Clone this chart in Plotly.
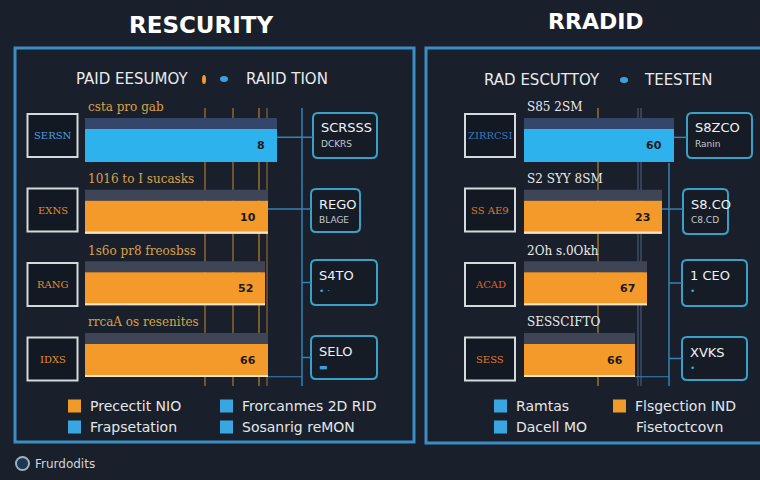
import plotly.graph_objects as go

W, H = 760, 480
def px(x): return x / W
def py(y): return 1 - y / H

# ---------------- data ----------------
rows = [0, 1, 2, 3]

left_values = [64, 61, 60, 61]
left_inner_labels = ["8", "10", "52", "66"]
left_categories = ["csta pro gab", "1016 to I sucasks", "1s6o pr8 freosbss", "rrcaA os resenites"]
left_tags = ["SERSN", "EXNS", "RANG", "IDXS"]
left_info_main = ["SCRSSS", "REGO", "S4TO", "SELO"]
left_info_sub = ["DCKRS", "BLAGE", "• ·", "▬"]
left_kinds = ["blue", "orange", "orange", "orange"]

right_values = [50, 46, 41, 37]
right_inner_labels = ["60", "23", "67", "66"]
right_categories = ["S85 2SM", "S2 SYY 8SM", "2Oh s.0Okh", "SESSCIFTO"]
right_tags = ["ZIRRCSI", "SS AE9", "ACAD", "SESS"]
right_info_main = ["S8ZCO", "S8.CO", "1 CEO", "XVKS"]
right_info_sub = ["Ranin", "C8.CD", "•", "•"]
right_kinds = ["blue", "orange", "orange", "orange"]

titles = ["RESCURITY", "RRADID"]
left_legend = [("orange", "Precectit NIO"), ("blue", "Frapsetation"),
               ("blue", "Frorcanmes 2D RID"), ("blue", "Sosanrig reMON")]
right_legend = [("blue", "Ramtas"), ("blue", "Dacell MO"),
                ("orange", "Flsgection IND"), (None, "Fisetoctcovn")]
footer_text = "Frurdodits"

# ---------------- styling ----------------
BG = "#1a202b"
FRAME = "#3b8ec4"
HEADER = {"blue": "#34466a", "orange": "#3e4556"}
BAR = {"blue": "#2db2ee", "orange": "#f39a2b"}
EDGE = {"blue": "#2db2ee", "orange": "#f6e4c6"}
TAG_TXT_L = ["#4a9fe0", "#e08c2c", "#e08c2c", "#e08c2c"]
TAG_TXT_R = ["#3a78c0", "#e07a2a", "#e0602a", "#e07a2a"]
SQ = {"blue": "#39a6e2", "orange": "#f09a2a"}
SANS = "DejaVu Sans"
SERIF = "DejaVu Serif"

HEAD_W = 0.153
BODY_W = 0.461
EDGE_W = 0.03

fig = go.Figure()

panels = [
    dict(xa="x", ya="y", vals=left_values, labels=left_inner_labels, kinds=left_kinds),
    dict(xa="x2", ya="y2", vals=right_values, labels=right_inner_labels, kinds=right_kinds),
]
for p in panels:
    fig.add_trace(go.Bar(x=p["vals"], y=rows, orientation="h", width=HEAD_W, offset=0,
                         marker=dict(color=[HEADER[k] for k in p["kinds"]], line=dict(width=0)),
                         xaxis=p["xa"], yaxis=p["ya"], hoverinfo="skip"))
    fig.add_trace(go.Bar(x=p["vals"], y=rows, orientation="h", width=BODY_W, offset=HEAD_W,
                         marker=dict(color=[BAR[k] for k in p["kinds"]], line=dict(width=0)),
                         xaxis=p["xa"], yaxis=p["ya"], hoverinfo="skip"))
    fig.add_trace(go.Bar(x=p["vals"], y=rows, orientation="h", width=EDGE_W,
                         offset=HEAD_W + BODY_W - EDGE_W,
                         marker=dict(color=[EDGE[k] for k in p["kinds"]], line=dict(width=0)),
                         xaxis=p["xa"], yaxis=p["ya"], hoverinfo="skip"))

YR = [3.795, -0.391]
ax_common = dict(visible=False, showgrid=False, zeroline=False, fixedrange=True)
fig.update_layout(
    width=W, height=H, margin=dict(l=0, r=0, t=0, b=0),
    paper_bgcolor=BG, plot_bgcolor="rgba(0,0,0,0)",
    showlegend=False, barmode="overlay",
    xaxis=dict(domain=[px(85), px(385)], range=[0, 100], anchor="y", **ax_common),
    yaxis=dict(domain=[py(390), py(90)], range=YR, anchor="x", **ax_common),
    xaxis2=dict(domain=[px(524), px(749)], range=[0, 75], anchor="y2", **ax_common),
    yaxis2=dict(domain=[py(390), py(90)], range=YR, anchor="x2", **ax_common),
)

shapes = []
ann = []

def rect(x0, y0, x1, y1, line=None, lw=2, fill=None, layer="above"):
    shapes.append(dict(type="rect", xref="paper", yref="paper",
                       x0=px(x0), x1=px(x1), y0=py(y1), y1=py(y0),
                       line=dict(color=line or "rgba(0,0,0,0)", width=lw if line else 0),
                       fillcolor=fill or "rgba(0,0,0,0)", layer=layer))

def rrect(x0, y0, x1, y1, r=5, line="#3aa0c8", lw=2, fill="#161c26"):
    pts = (f"M{px(x0+r)},{py(y0)} L{px(x1-r)},{py(y0)} Q{px(x1)},{py(y0)} {px(x1)},{py(y0+r)} "
           f"L{px(x1)},{py(y1-r)} Q{px(x1)},{py(y1)} {px(x1-r)},{py(y1)} "
           f"L{px(x0+r)},{py(y1)} Q{px(x0)},{py(y1)} {px(x0)},{py(y1-r)} "
           f"L{px(x0)},{py(y0+r)} Q{px(x0)},{py(y0)} {px(x0+r)},{py(y0)} Z")
    shapes.append(dict(type="path", xref="paper", yref="paper", path=pts,
                       line=dict(color=line, width=lw), fillcolor=fill))

def pline(x0, y0, x1, y1, color, w=1.5, layer="above", dash=None):
    shapes.append(dict(type="line", xref="paper", yref="paper",
                       x0=px(x0), y0=py(y0), x1=px(x1), y1=py(y1), layer=layer,
                       line=dict(color=color, width=w, dash=dash)))

def text(x, y, s, size=12, color="#e6e8ea", family=SANS, xanchor="left", bold=False):
    if bold:
        s = f"<b>{s}</b>"
    ann.append(dict(xref="paper", yref="paper", x=px(x), y=py(y), text=s, showarrow=False,
                    xanchor=xanchor, yanchor="middle",
                    font=dict(size=size, color=color, family=family)))

# frames
rect(15, 48, 414, 442, line=FRAME, lw=3)
rect(426, 48, 790, 443, line=FRAME, lw=3)

# titles
text(201, 25, titles[0], size=23, color="#ffffff", xanchor="center", bold=True)
text(596, 22, titles[1], size=22, color="#ffffff", xanchor="center", bold=True)

# subtitle legends
text(74, 79, "PAID EESUMOY", size=15, color="#e8eaec")
shapes.append(dict(type="circle", xref="paper", yref="paper", x0=px(202), x1=px(206), y0=py(84), y1=py(75),
                   fillcolor="#f09a2a", line=dict(width=0)))
shapes.append(dict(type="circle", xref="paper", yref="paper", x0=px(220), x1=px(228), y0=py(82), y1=py(76),
                   fillcolor="#3aa2e0", line=dict(width=0)))
text(244, 79, "RAIID TION", size=15, color="#e8eaec")
text(482, 80, "RAD ESCUTTOY", size=15, color="#e8eaec")
shapes.append(dict(type="circle", xref="paper", yref="paper", x0=px(620), x1=px(628), y0=py(83), y1=py(77),
                   fillcolor="#3aa2e0", line=dict(width=0)))
text(642, 80, "TEESTEN", size=15, color="#e8eaec")

# decorative thin lines behind bars
for x, c in [(205, "#b8802c"), (233, "#b8802c"), (259, "#c98e2e"), (267, "#9a6c2e")]:
    pline(x, 108, x, 386, c, w=1.1, layer="below")
for x, c in [(598, "#c8922e"), (638, "#4f5f76"), (641, "#4f5f76")]:
    pline(x, 108, x, 386, c, w=1.1, layer="below")

# connector verticals
CONN = "#3582b5"
pline(302, 108, 302, 386, CONN, w=1.5)
pline(669, 163, 669, 386, CONN, w=1.5)

# tag boxes (left of bars)
for k in rows:
    yc = 135.5 + 74.5 * k
    for xc, tags, cols in [(52.5, left_tags, TAG_TXT_L), (490, right_tags, TAG_TXT_R)]:
        rect(xc - 25, yc - 21.5, xc + 25, yc + 21.5, line="#d5d9de", lw=2, fill="#131923")
        text(xc, yc, tags[k], size=10, color=cols[k], family=SERIF, xanchor="center")

# info boxes
LEFT_INFO = [(313, 377, 113, 158), (311, 360, 189, 232), (311, 377, 260, 305), (311, 377, 336, 379)]
RIGHT_INFO = [(687, 752, 113, 158), (683, 728, 189, 234), (682, 747, 260, 306), (682, 747, 337, 380)]
for boxes, mains, subs in [(LEFT_INFO, left_info_main, left_info_sub),
                           (RIGHT_INFO, right_info_main, right_info_sub)]:
    for k, (x0, x1, y0, y1) in enumerate(boxes):
        rrect(x0, y0, x1, y1)
        text(x0 + 6, y0 + 15, mains[k], size=13, color="#eef2f5", family=SANS)
        sub_col = "#3aa2e0" if subs[k] in ("•", "• ·", "▬") else "#c3c9d1"
        text(x0 + 6, y0 + 31, subs[k], size=9, color=sub_col, family=SANS)

# horizontal connectors from bar ends (data coordinates)
def x_to_data(xpix, x0pix, scale):
    return (xpix - x0pix) / scale
for xa, ya, vals, boxes, x0pix, vline in [("x", "y", left_values, LEFT_INFO, 85, 302),
                                         ("x2", "y2", right_values, RIGHT_INFO, 524, 669)]:
    for k in (0, 1):
        shapes.append(dict(type="line", xref=xa, yref=ya, x0=vals[k],
                           x1=x_to_data(boxes[k][0], x0pix, 3), y0=k + 0.27, y1=k + 0.27,
                           line=dict(color=CONN, width=1.5)))
    for k in (2, 3):
        yc = (boxes[k][2] + boxes[k][3]) / 2
        pline(vline, yc, boxes[k][0], yc, CONN, w=1.5)
    shapes.append(dict(type="line", xref=xa, yref=ya, x0=vals[3],
                       x1=x_to_data(vline, x0pix, 3), y0=3 + 0.61, y1=3 + 0.61,
                       line=dict(color=CONN, width=1.2)))

# category labels above bars & inner value labels
for xa, ya, vals, cats, labels, ccol in [("x", "y", left_values, left_categories, left_inner_labels, "#d9a24a"),
                                         ("x2", "y2", right_values, right_categories, right_inner_labels, "#e8eaec")]:
    for k in rows:
        ann.append(dict(xref=xa, yref=ya, x=0, y=k - 0.15, text=cats[k], showarrow=False,
                        xanchor="left", yanchor="middle", xshift=1,
                        font=dict(size=12, color=ccol, family=SERIF)))
        ann.append(dict(xref=xa, yref=ya, x=vals[k], y=k + HEAD_W + BODY_W / 2, text=f"<b>{labels[k]}</b>",
                        showarrow=False, xanchor="right", yanchor="middle", xshift=-10,
                        font=dict(size=11, color="#1a1a1a", family=SANS)))

# bottom legends
for entries, xs in [(left_legend, (68, 220)), (right_legend, (494, 613))]:
    for i, (kind, label) in enumerate(entries):
        col = i // 2
        row = i % 2
        xq = xs[col]
        yc = 406 + 21 * row
        if kind:
            rect(xq, yc - 6.5, xq + 13, yc + 6.5, fill=SQ[kind])
            text(xq + 20, yc, label, size=14, color="#e3e6ea")
        else:
            text(xq + 21, yc, label, size=14, color="#e3e6ea")

# footer
shapes.append(dict(type="circle", xref="paper", yref="paper", x0=px(16), x1=px(29), y0=py(470), y1=py(457),
                   fillcolor="#1f3550", line=dict(color="#9fb0c2", width=2)))
text(33, 464, footer_text, size=12, color="#d0d4da")

fig.update_layout(shapes=shapes, annotations=ann)
fig.write_html("out.html", config={"displayModeBar": False},
               post_script="document.body.style.margin='0';document.body.style.overflow='hidden';"
                           "document.documentElement.style.background='" + BG + "';")
